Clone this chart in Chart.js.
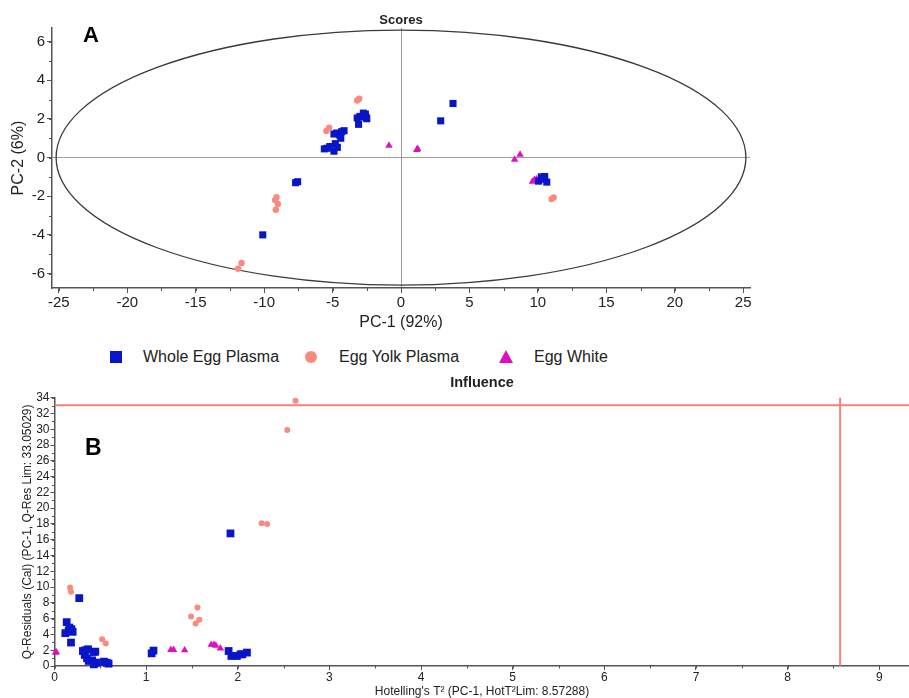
<!DOCTYPE html>
<html>
<head>
<meta charset="utf-8">
<script src="https://cdn.jsdelivr.net/npm/chart.js@4/dist/chart.umd.min.js"></script>
<style>
  html, body { margin:0; padding:0; background:#fff; }
  body { width:909px; height:698px; position:relative; overflow:hidden; font-family:'Liberation Sans', Arial, sans-serif; color:#222; }
  canvas { position:absolute; left:0; }
  #cA { top:0; }
  #cB { top:370px; }
  .panel { position:absolute; font-weight:bold; color:#000; line-height:1; }
  .leg { position:absolute; font-size:16px; line-height:18px; color:#222; white-space:nowrap; }
  .sym { position:absolute; }
</style>
</head>
<body>
<canvas id="cA" width="909" height="335"></canvas>
<canvas id="cB" width="915" height="329"></canvas>
<div class="panel" style="left:83px; top:24px; font-size:22px;">A</div>
<div class="panel" style="left:85px; top:436px; font-size:23px;">B</div>

<div class="sym" style="left:110px; top:351px; width:12px; height:12px; background:#0a14c8;"></div>
<div class="leg" style="left:143px; top:348px;">Whole Egg Plasma</div>
<div class="sym" style="left:305px; top:351px; width:12px; height:12px; border-radius:50%; background:#fa8a7e;"></div>
<div class="leg" style="left:339px; top:348px;">Egg Yolk Plasma</div>
<div class="sym" style="left:499px; top:350px; width:0; height:0; border-left:7px solid transparent; border-right:7px solid transparent; border-bottom:13px solid #e010c0;"></div>
<div class="leg" style="left:534px; top:348px;">Egg White</div>

<script>
// ---------- DATA ----------
// Panel A: PCA scores [PC-1, PC-2]
const scoresWholeEgg = [
  [-10.1,-4.0],[-7.7,-1.3],[-7.55,-1.25],
  [-5.6,0.45],[-5.4,0.48],[-5.2,0.57],[-4.9,0.33],[-4.8,0.72],[-4.65,0.53],
  [-4.9,1.22],[-4.7,1.27],[-4.4,1.0],[-4.5,1.17],[-4.33,1.34],[-4.16,1.39],
  [-3.2,2.05],[-3.0,2.13],[-2.75,2.3],[-2.6,2.25],[-2.5,2.01],[-3.1,1.72],[-2.55,2.08],[-2.8,2.1],
  [2.9,1.9],[3.8,2.8],
  [10.05,-1.22],[10.25,-1.0],[10.5,-0.98],[10.65,-1.27],[10.4,-1.12]
];
const scoresEggYolk = [
  [-11.9,-5.75],[-11.65,-5.45],[-9.15,-2.7],[-9.0,-2.4],[-9.2,-2.2],[-9.1,-2.05],
  [-5.45,1.38],[-5.25,1.55],[-3.2,2.95],[-3.05,3.05],[11.0,-2.15],[11.15,-2.07]
];
const scoresEggWhite = [
  [-0.88,0.62],[1.15,0.4],[1.22,0.45],[8.3,-0.1],[8.7,0.15],[9.6,-1.24],[9.75,-1.15],[9.9,-1.12]
];
// Panel A: 95% confidence ellipse (semi-axes in score units)
const ELLIPSE_RX = 25.2;
const ELLIPSE_RY = 6.6;

// Panel B: influence [Hotelling T2, Q-residual]
const influenceWholeEgg = [
  [0.27,8.6],[0.133,5.56],[0.118,4.16],[0.155,4.45],[0.184,4.67],[0.198,4.33],[0.162,4.87],
  [0.18,2.97],[0.31,1.9],[0.336,2.0],[0.366,2.12],[0.43,1.78],[0.445,1.82],
  [0.33,1.4],[0.355,0.98],[0.373,0.64],[0.41,0.72],[0.44,0.42],[0.46,0.42],[0.43,0.21],
  [0.54,0.55],[0.57,0.42],[0.59,0.3],
  [1.06,1.6],[1.08,1.95],
  [1.92,16.8],[1.9,1.9],[1.93,1.27],[1.99,1.27],[2.03,1.48],[2.05,1.48],[2.1,1.7]
];
const influenceEggYolk = [
  [2.63,33.6],[2.54,29.9],[2.26,18.1],[2.32,18.0],[0.17,9.96],[0.18,9.41],
  [0.52,3.4],[0.56,2.84],[1.49,6.28],[1.56,7.42],[1.54,5.38],[1.58,5.85]
];
const influenceEggWhite = [
  [0.01,1.7],[0.02,1.75],[1.27,2.04],[1.3,2.04],[1.42,2.0],[1.71,2.7],[1.74,2.7],[1.76,2.6],[1.81,2.25]
];
const Q_RES_LIM = 33.05029;
const HOT_T2_LIM = 8.57288;

const seriesNames = ['Whole Egg Plasma', 'Egg Yolk Plasma', 'Egg White'];

// ---------- STYLE ----------
const FONT = "'Liberation Sans', Arial, sans-serif";
const BLUE = '#0a14c8', PINK = '#fa8a7e', MAGENTA = '#e010c0';
const toXY = arr => arr.map(([x, y]) => ({x, y}));

const minorTicks = {
  id: 'minorTicks',
  afterDraw(chart, args, opts) {
    const ctx = chart.ctx;
    ctx.save();
    ctx.strokeStyle = opts.color || '#555';
    ctx.lineWidth = 1;
    for (const id of Object.keys(opts.steps || {})) {
      const s = chart.scales[id];
      const step = opts.steps[id];
      const i0 = Math.ceil(s.min / step - 1e-9), i1 = Math.floor(s.max / step + 1e-9);
      for (let i = i0; i <= i1; i++) {
        const p = Math.round(s.getPixelForValue(i * step)) + 0.5;
        ctx.beginPath();
        if (s.isHorizontal()) { ctx.moveTo(p, s.top); ctx.lineTo(p, s.top + opts.length); }
        else { ctx.moveTo(s.right - opts.length, p); ctx.lineTo(s.right, p); }
        ctx.stroke();
      }
    }
    ctx.restore();
  }
};

const ellipsePlugin = {
  id: 'ellipse',
  beforeDatasetsDraw(chart) {
    const {ctx, scales: {x, y}} = chart;
    const cx = x.getPixelForValue(0), cy = y.getPixelForValue(0);
    const rx = x.getPixelForValue(ELLIPSE_RX) - cx;
    const ry = cy - y.getPixelForValue(ELLIPSE_RY);
    ctx.save();
    ctx.strokeStyle = '#3a3a3a';
    ctx.lineWidth = 1.3;
    ctx.beginPath();
    ctx.ellipse(cx, cy, rx, ry, 0, 0, Math.PI * 2);
    ctx.stroke();
    ctx.restore();
  }
};

const limitPlugin = {
  id: 'limits',
  beforeDatasetsDraw(chart) {
    const {ctx, chartArea: a, scales: {x, y}} = chart;
    const qy = y.getPixelForValue(Q_RES_LIM);
    const tx = x.getPixelForValue(HOT_T2_LIM);
    ctx.save();
    ctx.strokeStyle = 'rgba(240,110,105,0.85)';
    ctx.lineWidth = 2;
    ctx.beginPath();
    ctx.moveTo(a.left, qy); ctx.lineTo(a.right + 10, qy);
    ctx.moveTo(tx, a.top); ctx.lineTo(tx, a.bottom);
    ctx.stroke();
    ctx.restore();
  }
};

function ds(label, data, style, color, radius) {
  return { label, data: toXY(data), pointStyle: style, pointRadius: radius, pointHoverRadius: radius,
           backgroundColor: color, borderColor: color, borderWidth: 0, clip: false };
}

Chart.defaults.font.family = FONT;
Chart.defaults.color = '#222';

// ---------- PANEL A ----------
new Chart(document.getElementById('cA'), {
  type: 'scatter',
  data: { datasets: [
    ds(seriesNames[0], scoresWholeEgg, 'rect', BLUE, 5),
    ds(seriesNames[1], scoresEggYolk, 'circle', PINK, 3.2),
    ds(seriesNames[2], scoresEggWhite, 'triangle', MAGENTA, 4.3)
  ]},
  plugins: [minorTicks, ellipsePlugin],
  options: {
    responsive: false, animation: false, devicePixelRatio: 1,
    layout: { padding: { left: 0, right: 159, top: 0, bottom: 0 } },
    plugins: {
      legend: { display: false },
      tooltip: { enabled: false },
      title: { display: true, text: 'Scores', fullSize: false, color: '#222',
               font: { family: FONT, size: 13, weight: 'bold' }, padding: { top: 12.5, bottom: 0 } },
      minorTicks: { steps: { x: 2.5, y: 1 }, length: 3, color: '#555' }
    },
    scales: {
      x: {
        type: 'linear', min: -25.5, max: 25.5,
        afterFit: s => { s.height = 47; },
        ticks: { stepSize: 5, includeBounds: false, autoSkip: false, maxRotation: 0, padding: 1,
                 color: '#222', font: { size: 15 } },
        grid: { drawOnChartArea: true, drawTicks: true, tickLength: 5, tickColor: '#555', lineWidth: 1,
                color: c => (c.tick && c.tick.value === 0) ? '#9c9c9c' : 'rgba(0,0,0,0)' },
        border: { display: true, color: '#555', width: 1.5 },
        title: { display: true, text: 'PC-1 (92%)', color: '#222', font: { size: 16 }, padding: { top: 0, bottom: 3 } }
      },
      y: {
        type: 'linear', min: -6.75, max: 6.7,
        afterFit: s => { s.width = 52; },
        ticks: { stepSize: 2, includeBounds: false, autoSkip: false, padding: 2,
                 color: '#222', font: { size: 15 } },
        grid: { drawOnChartArea: true, drawTicks: true, tickLength: 5, tickColor: '#555', lineWidth: 1,
                color: c => (c.tick && c.tick.value === 0) ? '#9c9c9c' : 'rgba(0,0,0,0)' },
        border: { display: true, color: '#555', width: 1.5 },
        title: { display: true, text: 'PC-2 (6%)', color: '#222', font: { size: 16 }, padding: { top: 9, bottom: 0 } }
      }
    }
  }
});

// ---------- PANEL B ----------
new Chart(document.getElementById('cB'), {
  type: 'scatter',
  data: { datasets: [
    ds(seriesNames[0], influenceWholeEgg, 'rect', BLUE, 5.5),
    ds(seriesNames[1], influenceEggYolk, 'circle', PINK, 3),
    ds(seriesNames[2], influenceEggWhite, 'triangle', MAGENTA, 4.3)
  ]},
  plugins: [minorTicks, limitPlugin],
  options: {
    responsive: false, animation: false, devicePixelRatio: 1,
    layout: { padding: 0 },
    plugins: {
      legend: { display: false },
      tooltip: { enabled: false },
      title: { display: true, text: 'Influence', fullSize: false, color: '#222',
               font: { family: FONT, size: 14.5, weight: 'bold' }, padding: { top: 4.6, bottom: 5.7 } },
      minorTicks: { steps: { x: 0.5, y: 1 }, length: 2.5, color: '#555' }
    },
    scales: {
      x: {
        type: 'linear', min: 0, max: 9.33,
        afterFit: s => { s.height = 33; },
        ticks: { stepSize: 1, includeBounds: false, autoSkip: false, maxRotation: 0, padding: 0,
                 color: '#222', font: { size: 12 } },
        grid: { drawOnChartArea: false, drawTicks: true, tickLength: 4, tickColor: '#555' },
        border: { display: true, color: '#555', width: 1.5 },
        title: { display: true, text: "Hotelling's T² (PC-1, HotT²Lim: 8.57288)", color: '#222',
                 font: { size: 12 }, padding: { top: 0, bottom: 0 } }
      },
      y: {
        type: 'linear', min: 0, max: 34,
        afterFit: s => { s.width = 54.5; },
        ticks: { stepSize: 2, includeBounds: false, autoSkip: false, padding: 1,
                 color: '#222', font: { size: 12 } },
        grid: { drawOnChartArea: false, drawTicks: true, tickLength: 4, tickColor: '#555' },
        border: { display: true, color: '#555', width: 1.5 },
        title: { display: true, text: 'Q-Residuals (Cal) (PC-1, Q-Res Lim: 33.05029)', color: '#222',
                 font: { size: 12 }, padding: { top: 20, bottom: 0 } }
      }
    }
  }
});
</script>
</body>
</html>
